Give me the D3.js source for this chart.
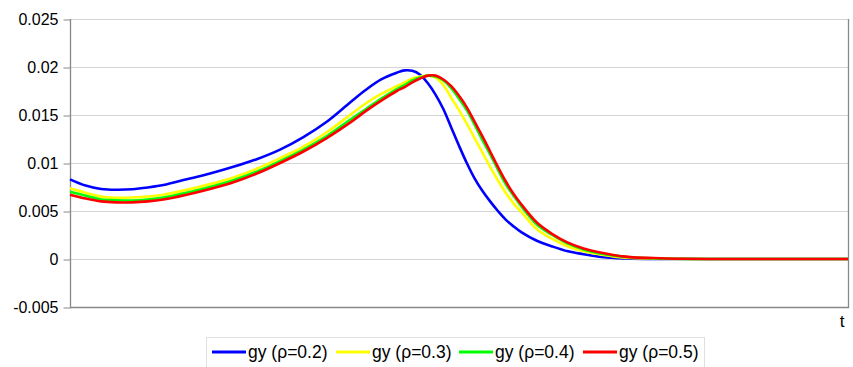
<!DOCTYPE html>
<html><head><meta charset="utf-8">
<script src="https://cdn.jsdelivr.net/npm/d3@7"></script>
<style>body{margin:0;background:#fff;} svg{display:block;font-family:"Liberation Sans",Arial,sans-serif;}</style>
</head><body>
<svg id="c" width="853" height="367"></svg>
<script>
const tValues = [0,2,4,6,8,10,12,15,18,21,24,27,30,33,36,38,40,42,43,44,45,46,47,48,49,50,51,52,53,54,55,56,57,58,60,62,64,66,68,70,72,75,78,82,100];
const gy02 = [0.0083,0.00765,0.0073,0.00722,0.00727,0.00745,0.0077,0.0083,0.0089,0.0096,0.0104,0.0114,0.0127,0.0143,0.0163,0.0176,0.0187,0.0194,0.01965,0.0196,0.0192,0.0183,0.0171,0.0156,0.0137,0.0118,0.0100,0.0084,0.0071,0.0060,0.0050,0.0041,0.0034,0.0028,0.0019,0.0013,0.0008,0.0005,0.00025,0.0001,0.00004,0,0,0,0];
const gy03 = [0.00736,0.0069,0.0065,0.00638,0.0064,0.0065,0.0067,0.0072,0.0078,0.0085,0.0094,0.0105,0.0117,0.0132,0.0150,0.0162,0.0172,0.0180,0.0184,0.0188,0.0190,0.0191,0.0189,0.0181,0.0168,0.0155,0.0141,0.0126,0.0111,0.0096,0.0082,0.0069,0.0058,0.0049,0.0031,0.0021,0.0013,0.0008,0.0005,0.00025,0.00012,0.00004,0,0,0];
const gy04 = [0.0070,0.0066,0.0062,0.00612,0.0061,0.0062,0.0064,0.0069,0.0075,0.0082,0.0091,0.0102,0.0114,0.0128,0.0145,0.0156,0.0167,0.0177,0.0181,0.0186,0.0189,0.0191,0.0190,0.0186,0.0178,0.0167,0.0155,0.0140,0.0124,0.0109,0.0093,0.0078,0.0066,0.0055,0.0036,0.0025,0.0016,0.0010,0.0006,0.00035,0.00018,0.00007,0.00002,0,0];
const gy05 = [0.0067,0.0063,0.0060,0.0059,0.0059,0.0060,0.0062,0.0067,0.0073,0.0080,0.0089,0.0100,0.0112,0.0126,0.0142,0.0154,0.0165,0.0175,0.0179,0.0184,0.0188,0.0191,0.0191,0.0187,0.0180,0.0170,0.0158,0.0143,0.0128,0.0112,0.0096,0.0081,0.0068,0.0057,0.0038,0.0026,0.0017,0.0011,0.0007,0.0004,0.0002,0.0001,0.00003,0,0];
const seriesNames = ["gy (ρ=0.2)","gy (ρ=0.3)","gy (ρ=0.4)","gy (ρ=0.5)"];
const seriesColors = ["#0000ff","#ffff00","#00ff00","#ff0000"];
const yTicks = [-0.005,0,0.005,0.01,0.015,0.02,0.025];
const yTickLabels = ["-0.005","0","0.005","0.01","0.015","0.02","0.025"];

const svg = d3.select("#c");
const L = 70, R = 848, T = 19, B = 307;
const x = d3.scaleLinear().domain([0,100]).range([L,R]);
const y = d3.scaleLinear().domain([-0.005,0.025]).range([B,T]);

svg.append("g").selectAll("line").data(yTicks).join("line")
  .attr("x1",L).attr("x2",R).attr("y1",d=>Math.round(y(d))+0.5).attr("y2",d=>Math.round(y(d))+0.5)
  .attr("stroke","#d4d4d4").attr("stroke-width",1);

svg.append("path").attr("d",`M${L+0.5},${T}V${B+0.5}H${R+0.5}V${T}`)
  .attr("fill","none").attr("stroke","#888").attr("stroke-width",1.3);

const yAxis = d3.axisLeft(y).tickValues(yTicks).tickFormat((d,i)=>yTickLabels[i]).tickSize(7).tickPadding(5);
const ga = svg.append("g").attr("transform",`translate(${L+0.5},0.5)`).call(yAxis);
ga.select(".domain").remove();
ga.selectAll(".tick line").attr("stroke","#888");
ga.selectAll(".tick text").attr("font-size",16).attr("fill","#000").attr("font-family","Liberation Sans, Arial, sans-serif");

const allSeries = [gy02,gy03,gy04,gy05];
const line = d3.line().x((d,i)=>x(tValues[i])).y(d=>y(Math.max(d,0))).curve(d3.curveCatmullRom.alpha(0.5));
allSeries.forEach((s,k)=>{
  svg.append("path").datum(s).attr("d",line).attr("fill","none")
    .attr("stroke",seriesColors[k]).attr("stroke-width",2.6).attr("stroke-linejoin","round");
});

svg.append("text").attr("x",842).attr("y",327).attr("text-anchor","middle")
  .attr("font-size",17).text("t");

const lg = svg.append("g");
lg.append("rect").attr("x",206.5).attr("y",337.5).attr("width",498).attr("height",30)
  .attr("fill","#fff").attr("stroke","#e0e0e0");
const itemX = [212,336,459,583];
seriesNames.forEach((n,k)=>{
  lg.append("line").attr("x1",itemX[k]).attr("x2",itemX[k]+34).attr("y1",352).attr("y2",352)
    .attr("stroke",seriesColors[k]).attr("stroke-width",3);
  lg.append("text").attr("x",itemX[k]+36).attr("y",358).attr("font-size",17.5).text(n);
});
</script>
</body></html>
